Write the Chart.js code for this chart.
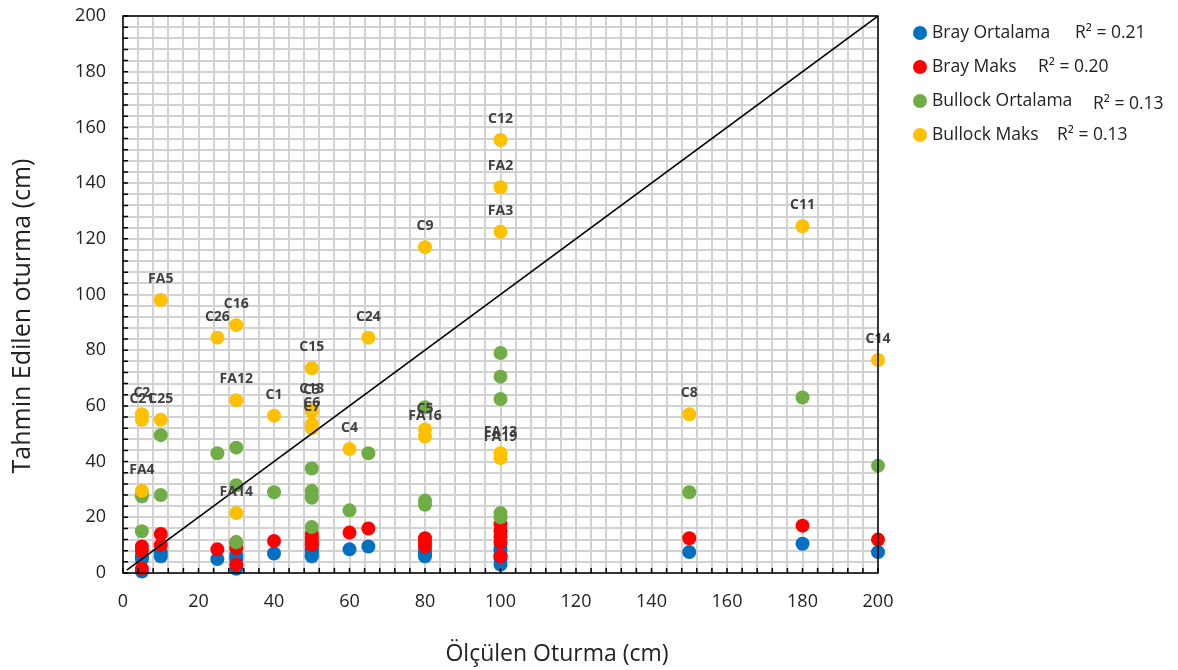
<!DOCTYPE html>
<html>
<head>
<meta charset="utf-8">
<script src="https://cdn.jsdelivr.net/npm/chart.js@4.4.0/dist/chart.umd.min.js"></script>
<style>
  html, body { margin: 0; padding: 0; background: #fff; }
  #wrap { width: 1178px; height: 670px; }
</style>
</head>
<body>
<div id="wrap"><canvas id="chart" width="1178" height="670"></canvas></div>
<script>
// series names, colours and R² values shown in the legend
const seriesNames = ["Bray Ortalama", "Bray Maks", "Bullock Ortalama", "Bullock Maks"];
const seriesColors = ["#0070c0", "#ff0000", "#70ad47", "#ffc000"];
const rSquared = ["0.21", "0.20", "0.13", "0.13"];

// axis titles
const xTitle = "Ölçülen Oturma (cm)";
const yTitle = "Tahmin Edilen oturma (cm)";

// measured settlement (cm), same sites for every series
const measuredX = [5, 5, 5, 10, 10, 25, 30, 30, 30, 40, 50, 50, 50, 50, 50, 60, 65, 80, 80, 80, 100, 100, 100, 100, 100, 150, 180, 200];

// site labels (shown above Bullock Maks points)
const siteLabels = ["FA4", "C2", "C21", "FA5", "C25", "C26", "C16", "FA12", "FA14", "C1", "C15", "C13", "C3", "C6", "C7", "C4", "C24", "C9", "C5", "FA16", "C12", "FA2", "FA3", "FA13", "FA19", "C8", "C11", "C14"];

// predicted settlement (cm)
const brayOrtalama = [6, 5, 0.5, 7.5, 6, 5, 6.5, 5, 1.5, 7, 8.5, 8, 7.5, 6.5, 6, 8.5, 9.5, 8, 7, 6, 9, 8, 6.5, 5, 3, 7.5, 10.5, 7.5];
const brayMaks = [9.5, 8, 1.5, 14, 10, 8.5, 11, 9, 3, 11.5, 14, 12.5, 11.5, 10.5, 10, 14.5, 16, 12.5, 11, 9.5, 17.5, 15, 13, 11, 6, 12.5, 17, 12];
const bullockOrtalama = [28.5, 27.5, 15, 49.5, 28, 43, 45, 31.5, 11, 29, 37.5, 29.5, 28, 27, 16.5, 22.5, 43, 59.5, 26, 24.5, 79, 70.5, 62.5, 21.5, 20, 29, 63, 38.5];
const bullockMaks = [29.5, 57, 55, 98, 55, 84.5, 89, 62, 21.5, 56.5, 73.5, 58.5, 58, 53.5, 52, 44.5, 84.5, 117, 51.5, 49, 155.5, 138.5, 122.5, 43, 41.3, 57, 124.5, 76.5];

// 1:1 line
const lineX = [1, 200];
const lineY = [1, 200];

// axis tick labels
const xTickLabels = [0, 20, 40, 60, 80, 100, 120, 140, 160, 180, 200];
const yTickLabels = [0, 20, 40, 60, 80, 100, 120, 140, 160, 180, 200];
const gridStep = 4;

const seriesValues = [brayOrtalama, brayMaks, bullockOrtalama, bullockMaks];
const FONT = "'Open Sans', Lato, sans-serif";

function toPoints(xs, ys) {
  return xs.map((x, i) => ({ x: x, y: ys[i] }));
}

Chart.defaults.font.family = FONT;
Chart.defaults.color = "#222";

const datasets = seriesValues.map((vals, i) => ({
  type: "scatter",
  label: seriesNames[i],
  data: toPoints(measuredX, vals),
  backgroundColor: seriesColors[i],
  borderWidth: 0,
  pointRadius: 7,
  pointHoverRadius: 7,
  clip: false,
  order: 4 - i
}));

datasets.push({
  type: "line",
  label: "1:1",
  data: toPoints(lineX, lineY),
  borderColor: "#000",
  borderWidth: 1.6,
  pointRadius: 0,
  fill: false,
  order: 0
});

// plot frame, inside tick marks and axis titles
const framePlugin = {
  id: "frame",
  afterDraw(chart) {
    const { ctx, chartArea: a, scales } = chart;
    ctx.save();
    ctx.strokeStyle = "#000";
    ctx.lineWidth = 1.5;
    ctx.beginPath();
    for (let v = 0; v <= 200; v += gridStep) {
      const px = scales.x.getPixelForValue(v);
      ctx.moveTo(px, a.bottom);
      ctx.lineTo(px, a.bottom - 5);
      const py = scales.y.getPixelForValue(v);
      ctx.moveTo(a.left, py);
      ctx.lineTo(a.left + 5, py);
    }
    ctx.stroke();
    ctx.strokeRect(a.left, a.top, a.right - a.left, a.bottom - a.top);

    ctx.fillStyle = "#222";
    ctx.textAlign = "center";
    ctx.textBaseline = "middle";
    ctx.font = "23px " + FONT;
    ctx.fillText(xTitle, 557, 654);
    ctx.font = "25px " + FONT;
    ctx.translate(23, 316);
    ctx.rotate(-Math.PI / 2);
    ctx.fillText(yTitle, 0, 0);
    ctx.restore();
  }
};

// site labels above the Bullock Maks points
const siteLabelPlugin = {
  id: "siteLabels",
  afterDatasetsDraw(chart) {
    const { ctx } = chart;
    const meta = chart.getDatasetMeta(3);
    ctx.save();
    ctx.font = "bold 14px " + FONT;
    ctx.fillStyle = "#404040";
    ctx.textAlign = "center";
    ctx.textBaseline = "middle";
    meta.data.forEach((pt, i) => {
      ctx.fillText(siteLabels[i], pt.x, pt.y - 21);
    });
    ctx.restore();
  }
};

// legend with R² values on the right
const legendPlugin = {
  id: "sideLegend",
  afterDraw(chart) {
    const { ctx } = chart;
    const rowY = [33, 67, 101, 135];
    const rX = [1075, 1038, 1093, 1057];
    const rDy = [0, 0, 3, 0];
    ctx.save();
    ctx.font = "17.5px " + FONT;
    ctx.textBaseline = "middle";
    ctx.textAlign = "left";
    seriesNames.forEach((name, i) => {
      ctx.fillStyle = seriesColors[i];
      ctx.beginPath();
      ctx.arc(920, rowY[i], 7, 0, Math.PI * 2);
      ctx.fill();
      ctx.fillStyle = "#222";
      ctx.fillText(name, 932, rowY[i]);
      ctx.fillText("R\u00B2 = " + rSquared[i], rX[i], rowY[i] + rDy[i]);
    });
    ctx.restore();
  }
};

new Chart(document.getElementById("chart"), {
  type: "scatter",
  data: { datasets: datasets },
  options: {
    responsive: false,
    animation: false,
    devicePixelRatio: 1,
    layout: { padding: { top: 16, right: 300, left: 0, bottom: 0 } },
    plugins: {
      legend: { display: false },
      tooltip: { enabled: false }
    },
    scales: {
      x: {
        type: "linear",
        min: 0,
        max: 200,
        afterFit(scale) {
          scale.height = 97;
          scale.paddingLeft = 0;
          scale.paddingRight = 0;
        },
        border: { display: false },
        grid: { color: "#d2d2d2", lineWidth: 2, drawTicks: false },
        ticks: {
          stepSize: gridStep,
          autoSkip: false,
          maxRotation: 0,
          padding: 18,
          font: { size: 18 },
          color: "#222",
          callback: (v) => (xTickLabels.includes(v) ? v : "")
        }
      },
      y: {
        type: "linear",
        min: 0,
        max: 200,
        afterFit(scale) {
          scale.width = 123;
          scale.paddingTop = 0;
          scale.paddingBottom = 0;
        },
        border: { display: false },
        grid: { color: "#d2d2d2", lineWidth: 2, drawTicks: false },
        ticks: {
          stepSize: gridStep,
          autoSkip: false,
          padding: 17,
          font: { size: 18 },
          color: "#222",
          callback: (v) => (yTickLabels.includes(v) ? v : "")
        }
      }
    }
  },
  plugins: [framePlugin, siteLabelPlugin, legendPlugin]
});
</script>
</body>
</html>
